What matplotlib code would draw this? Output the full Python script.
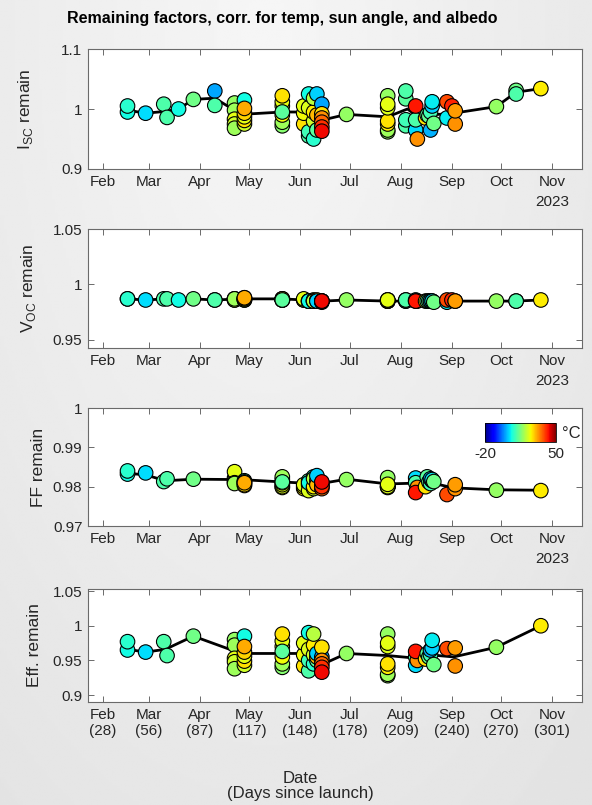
import numpy as np
import pandas as pd
import matplotlib
matplotlib.use("Agg")
import matplotlib.pyplot as plt
import matplotlib.dates as mdates
from matplotlib.colors import Normalize
from matplotlib.cm import ScalarMappable

plt.rcParams['font.family'] = ['Liberation Sans', 'DejaVu Sans']
plt.rcParams['mathtext.fontset'] = 'custom'
plt.rcParams['mathtext.rm'] = 'Liberation Sans'

nan = np.nan
LAUNCH = "2023-01-04"

# one entry per measurement (date, panel temperature, remaining factors)
obs_date = [
    "2023-02-16", "2023-02-16",
    "2023-02-27",
    "2023-03-10", "2023-03-12",
    "2023-03-19",
    "2023-03-28",
    "2023-04-10", "2023-04-10",
    "2023-04-22", "2023-04-22", "2023-04-22", "2023-04-22", "2023-04-22",
    "2023-04-28", "2023-04-28", "2023-04-28", "2023-04-28", "2023-04-28", "2023-04-28",
    "2023-05-21", "2023-05-21", "2023-05-21", "2023-05-21", "2023-05-21", "2023-05-21", "2023-05-21",
    "2023-06-03", "2023-06-03", "2023-06-03",
    "2023-06-06", "2023-06-06", "2023-06-06", "2023-06-06",
    "2023-06-09", "2023-06-09", "2023-06-09", "2023-06-09",
    "2023-06-11", "2023-06-11", "2023-06-11",
    "2023-06-14", "2023-06-14", "2023-06-14", "2023-06-14", "2023-06-14", "2023-06-14",
    "2023-06-29",
    "2023-07-24", "2023-07-24", "2023-07-24", "2023-07-24", "2023-07-24", "2023-07-24", "2023-07-24",
    "2023-08-04", "2023-08-04", "2023-08-04", "2023-08-04",
    "2023-08-10", "2023-08-10", "2023-08-11", "2023-08-10",
    "2023-08-16", "2023-08-17", "2023-08-18", "2023-08-19", "2023-08-19", "2023-08-20", "2023-08-20", "2023-08-21",
    "2023-08-29", "2023-08-29",
    "2023-09-01",
    "2023-09-03", "2023-09-03",
    "2023-09-28",
    "2023-10-10", "2023-10-10",
    "2023-10-25",
]
temp_c = [
    6, 8,
    4,
    11, 11,
    6,
    14,
    0, 11,
    17, 18, 24, 22, 18,
    6, 22, 27, 24, 28, 31,
    16, 18, 25, 23, 24, 27, 12,
    27, 25, 24,
    11, 10, 23, 6,
    8, 22, 26, 20,
    12, 30, 3,
    0, 27, 33, 36, 40, 43,
    17,
    17, 18, 26, 27, 17, 23, 24,
    11, 10, 12, 11,
    4, 11, 33, 42,
    27, 12, 13, 10, 1, 3, 5, 14,
    5, 38,
    41,
    33, 32,
    17,
    14, 11,
    26,
]
isc = [
    0.995, 1.005,
    0.993,
    1.008, 0.986,
    1.000,
    1.016,
    1.030, 1.006,
    1.010, 0.998, 0.983, 0.975, 0.968,
    1.015, 0.975, 0.981, 0.987, 0.993, 1.001,
    0.972, 0.978, 0.990, 1.005, 1.012, 1.022, 0.995,
    0.975, 0.993, 1.005,
    0.955, 0.962, 1.002, 1.025,
    0.950, 0.980, 0.995, 1.018,
    0.965, 0.990, 1.025,
    1.008, 0.992, 0.985, 0.978, 0.970, 0.963,
    0.991,
    0.962, 0.965, 0.975, 0.980, 1.022, 1.002, 1.008,
    0.972, 0.982, 1.017, 1.030,
    0.965, 0.982, 0.950, 1.005,
    0.985, 0.990, 0.988, 0.995, 0.965, 1.005, 1.012, 0.976,
    0.985, 1.012,
    1.005,
    0.975, 0.997,
    1.004,
    1.031, 1.025,
    1.034,
]
voc = [
    0.987, 0.987,
    0.986,
    0.987, 0.987,
    0.986,
    0.987,
    0.986, 0.986,
    0.987, 0.986, 0.987, 0.986, 0.987,
    0.986, 0.986, 0.987, 0.987, 0.988, 0.988,
    0.986, 0.986, 0.986, 0.987, 0.987, 0.987, 0.986,
    0.986, 0.986, 0.987,
    0.985, 0.985, 0.985, 0.985,
    0.985, 0.986, 0.985, 0.985,
    0.985, 0.986, 0.985,
    0.984, 0.985, 0.985, 0.985, 0.985, 0.985,
    0.986,
    0.985, 0.985, 0.985, 0.985, 0.986, 0.986, 0.986,
    0.985, 0.985, 0.986, 0.986,
    0.986, 0.985, 0.985, 0.985,
    0.985, 0.985, 0.985, 0.985, 0.985, 0.985, 0.985, 0.984,
    0.984, 0.986,
    0.986,
    0.985, 0.985,
    0.985,
    0.985, 0.985,
    0.986,
]
ff = [
    0.9832, 0.9840,
    0.9835,
    0.9813, 0.9820,
    nan,
    0.9819,
    nan, nan,
    0.9822, 0.9815, 0.9838, 0.9810, 0.9808,
    0.9815, 0.9810, 0.9803, 0.9812, 0.9805, 0.9810,
    0.9818, 0.9825, 0.9798, 0.9800, 0.9805, 0.9810, 0.9812,
    0.9795, 0.9800, 0.9805,
    0.9805, 0.9815, 0.9790, 0.9810,
    0.9825, 0.9795, 0.9800, 0.9820,
    0.9815, 0.9805, 0.9828,
    0.9810, 0.9805, 0.9800, 0.9795, 0.9800, 0.9812,
    0.9818,
    0.9800, 0.9798, 0.9802, 0.9799, 0.9823, 0.9800, 0.9806,
    nan, nan, nan, nan,
    0.9822, 0.9810, 0.9798, 0.9785,
    0.9800, 0.9825, 0.9812, 0.9808, 0.9820, 0.9815, 0.9818, 0.9813,
    nan, 0.9780,
    nan,
    0.9795, 0.9805,
    0.9791,
    nan, nan,
    0.9790,
]
eff = [
    0.965, 0.977,
    0.962,
    0.977, 0.957,
    nan,
    0.985,
    nan, nan,
    0.980, 0.972, 0.953, 0.948, 0.938,
    0.985, 0.943, 0.949, 0.956, 0.962, 0.970,
    0.940, 0.945, 0.955, 0.970, 0.978, 0.988, 0.963,
    0.942, 0.958, 0.975,
    0.935, 0.950, 0.966, 0.990,
    0.945, 0.958, 0.972, 0.988,
    0.950, 0.955, 0.960,
    0.955, 0.969, 0.950, 0.945, 0.940, 0.933,
    0.960,
    0.928, 0.930, 0.940, 0.945, 0.988, 0.970, 0.975,
    nan, nan, nan, nan,
    0.943, 0.955, 0.950, 0.963,
    0.952, 0.960, 0.955, 0.958, 0.965, 0.968, 0.979, 0.944,
    nan, 0.967,
    nan,
    0.942, 0.968,
    0.969,
    nan, nan,
    1.000,
]

# black trend line through each measurement campaign
trend_date = ["2023-02-16", "2023-02-27", "2023-03-11", "2023-03-19", "2023-03-28",
              "2023-04-10", "2023-04-26", "2023-05-21", "2023-06-03", "2023-06-15",
              "2023-06-29", "2023-07-24", "2023-08-05", "2023-08-11", "2023-08-19",
              "2023-09-02", "2023-09-28", "2023-10-10", "2023-10-25"]
isc_trend = [0.998, 0.993, 0.996, 1.000, 1.016, 1.018, 0.991, 0.995, 0.995, 0.982,
             0.991, 0.987, 1.000, 0.988, 0.990, 0.993, 1.004, 1.028, 1.034]
voc_trend = [0.987, 0.986, 0.987, 0.986, 0.987, 0.986, 0.987, 0.987, 0.986, 0.985,
             0.986, 0.985, 0.985, 0.985, 0.985, 0.985, 0.985, 0.985, 0.986]
ff_trend = [0.9834, 0.9830, 0.9815, nan, 0.9819, nan, 0.9818, 0.9812, 0.9809, 0.9809,
            0.9819, 0.9807, nan, 0.9809, 0.9810, 0.9797, 0.9792, nan, 0.9791]
eff_trend = [0.966, 0.962, 0.966, nan, 0.985, nan, 0.960, 0.960, 0.960, 0.945,
             0.960, 0.957, nan, 0.953, 0.958, 0.955, 0.969, nan, 1.000]

month_ticks = pd.date_range("2023-02-01", "2023-11-01", freq="MS")
x_range = ["2023-01-23", "2023-11-19"]
temp_range = [-20, 50]

W, H = 592, 805
fig = plt.figure(figsize=(W / 100, H / 100), dpi=100)

# soft grey backdrop
bg = fig.add_axes([0, 0, 1, 1], zorder=-10)
yy, xx = np.mgrid[0:1:300j, 0:1:220j]
r = np.sqrt(((xx - 0.45) / 1.1) ** 2 + ((yy - 0.05) / 1.6) ** 2)
bg.imshow(0.965 - 0.10 * r, cmap="gray", vmin=0, vmax=1, extent=[0, 1, 0, 1],
          aspect="auto", origin="upper")
bg.axis("off")

dates = mdates.date2num(pd.to_datetime(obs_date))
tdates = mdates.date2num(pd.to_datetime(trend_date))
launch = pd.Timestamp(LAUNCH)
norm = Normalize(*temp_range)

# values, trend, ylim, yticks, ylabel, top px, bottom px, ylabel right edge px
panels = [
    (isc, isc_trend, (0.9, 1.1), [0.9, 1, 1.1], "I$_{\\rm SC}$ remain", 49, 169, 35),
    (voc, voc_trend, (0.9427, 1.05), [0.95, 1, 1.05], "V$_{\\rm OC}$ remain", 229, 348, 38),
    (ff, ff_trend, (0.97, 1.0), [0.97, 0.98, 0.99, 1], "FF remain", 408, 526, 46),
    (eff, eff_trend, (0.89, 1.053), [0.9, 0.95, 1, 1.05], "Eff. remain", 589, 702, 42),
]
ax_left, ax_right = 88, 582
frame_col = "#6a6a6a"
text_col = "#262626"

for i, (vals, trend, ylim, yticks, ylab, top, bot, lab_x) in enumerate(panels):
    ax = fig.add_axes([ax_left / W, 1 - bot / H, (ax_right - ax_left) / W, (bot - top) / H])
    ax.set_facecolor("white")
    v = np.array(vals, dtype=float)
    t = np.array(trend, dtype=float)
    m = ~np.isnan(t)
    ax.plot(tdates[m], t[m], color="black", lw=2, zorder=2)
    pm = ~np.isnan(v)
    ax.scatter(dates[pm], v[pm], c=np.array(temp_c)[pm], cmap="jet", norm=norm,
               s=110, edgecolors="black", linewidths=0.8, zorder=3)

    ax.set_xlim(mdates.date2num(pd.to_datetime(x_range)))
    ax.set_ylim(ylim)
    ax.set_yticks(yticks)
    ax.set_yticklabels([f"{y:g}" for y in yticks])
    ax.set_xticks(mdates.date2num(month_ticks))
    if i < 3:
        ax.set_xticklabels([d.strftime("%b") for d in month_ticks])
        ax.annotate("2023", xy=(mdates.date2num(month_ticks[-1]), 0),
                    xycoords=("data", "axes fraction"), xytext=(0, -19),
                    textcoords="offset points", ha="center", va="top",
                    fontsize=11, color=text_col)
    else:
        ax.set_xticklabels([f"{d.strftime('%b')}\n({(d - launch).days})" for d in month_ticks],
                           linespacing=1.25)
    ax.tick_params(direction="in", length=4, width=0.7, top=True, right=True,
                   color=frame_col, labelcolor=text_col, labelsize=11, pad=4)
    for sp in ax.spines.values():
        sp.set_color(frame_col)
        sp.set_linewidth(0.8)
    ax.set_ylabel(ylab, fontsize=12.5, color=text_col)
    ax.yaxis.set_label_coords((lab_x - ax_left) / (ax_right - ax_left), 0.5)

    if i == 2:
        cax = fig.add_axes([485 / W, 1 - 442 / H, 71 / W, 19 / H])
        cb = fig.colorbar(ScalarMappable(norm=norm, cmap="jet"), cax=cax,
                          orientation="horizontal")
        cb.set_ticks([])
        cb.outline.set_linewidth(0.6)
        cax.text(0, -0.25, "-20", transform=cax.transAxes, ha="center", va="top",
                 fontsize=11, color=text_col)
        cax.text(1, -0.25, "50", transform=cax.transAxes, ha="center", va="top",
                 fontsize=11, color=text_col)
        cax.text(1.08, 0.45, "°C", transform=cax.transAxes, ha="left", va="center",
                 fontsize=12, color=text_col)

fig.text(282 / W, 1 - 18 / H, "Remaining factors, corr. for temp, sun angle, and albedo",
         ha="center", va="center", fontsize=11.5, fontweight="bold", color="black")
fig.text(300 / W, 1 - 786 / H, "Date\n(Days since launch)", ha="center", va="center",
         fontsize=12, color=text_col, linespacing=1.05)

fig.savefig("out.png", dpi=100)
